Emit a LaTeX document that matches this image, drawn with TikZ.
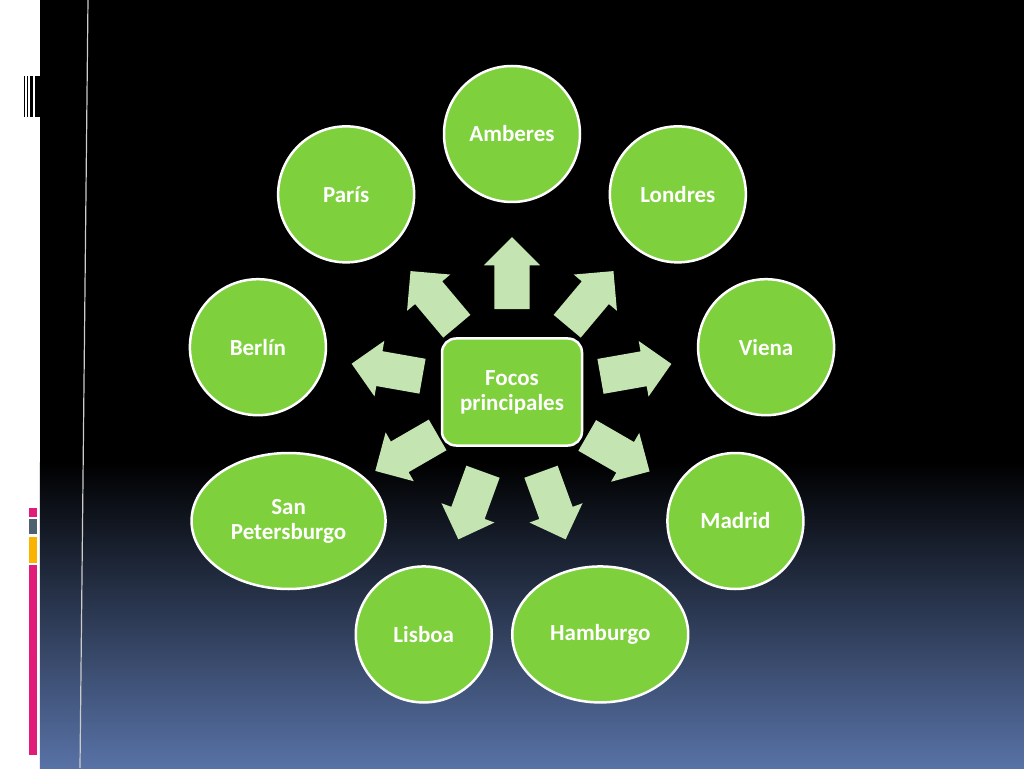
\documentclass[tikz,border=0pt]{standalone}
\usepackage{fontspec}
\setmainfont{Carlito}
\usetikzlibrary{shapes.arrows,shapes.geometric}
\definecolor{focusgreen}{RGB}{126,208,60}
\definecolor{arrowgreen}{RGB}{196,228,178}
\definecolor{slateblue}{RGB}{88,114,166}
\definecolor{barpink}{RGB}{224,27,121}
\definecolor{bargray}{RGB}{80,96,110}
\definecolor{baryellow}{RGB}{250,180,0}

\begin{document}
\begin{tikzpicture}
        [x=1pt,y=1pt,
        city/.style={ellipse,draw=white,line width=2.5pt,fill=focusgreen,minimum height=136pt,inner sep=0pt,text=white,align=center,font=\bfseries\fontsize{23}{25}\selectfont},
        hub/.style={rectangle,rounded corners=14pt,draw=white,line width=2.5pt,fill=focusgreen,minimum width=140pt,minimum height=107pt,text=white,align=center,font=\bfseries\fontsize{23}{25}\selectfont},
        spoke/.style={single arrow,fill=arrowgreen,minimum height=72pt,inner xsep=0pt,inner ysep=17.5pt,single arrow head extend=10.5pt}]
    \useasboundingbox (-512,-376) rectangle (512,392);
    
    % slide background
    \fill[white] (-512,-376) rectangle (-472,392);
    \fill[black] (-472,-70) rectangle (512,392);
    \shade[top color=black,bottom color=slateblue] (-472,-376) rectangle (512,-70);
    \draw[gray!40!white,line width=1.2pt] (-424,392) -- (-432,-376);
    \foreach \xa/\xb in {-487.7/-486.8, -485/-484, -482.3/-479, -477/-472}
        \fill[black] (\xa,316) rectangle (\xb,275);
    \fill[barpink] (-483.3,-116) rectangle (-475,-125);
    \fill[bargray] (-483.3,-127) rectangle (-475,-142);
    \fill[baryellow] (-483.3,-145) rectangle (-475,-171);
    \fill[barpink] (-483.3,-173) rectangle (-475,-363);
    
    \node[hub] (focos) at (0,0) {Focos\\principales};
    
    \foreach \ang/\gap/\name/\txt/\across in {90/110/amberes/Amberes/136, 50/113/londres/Londres/136, 10/117/viena/Viena/136, -30/114/madrid/Madrid/136, -70/112/hamburgo/Hamburgo/176, -110/112/lisboa/Lisboa/136, -150/113/sanpetersburgo/{San\\Petersburgo}/194, 170/118/berlin/Berlín/136, 130/113/paris/París/136}
    {
        \node[spoke,rotate=\ang] (to-\name) at (\ang:\gap) {};
        \node[city,minimum width=\across pt] (\name) at (\ang:258) {\txt};
    }
    
\end{tikzpicture}
\end{document}
